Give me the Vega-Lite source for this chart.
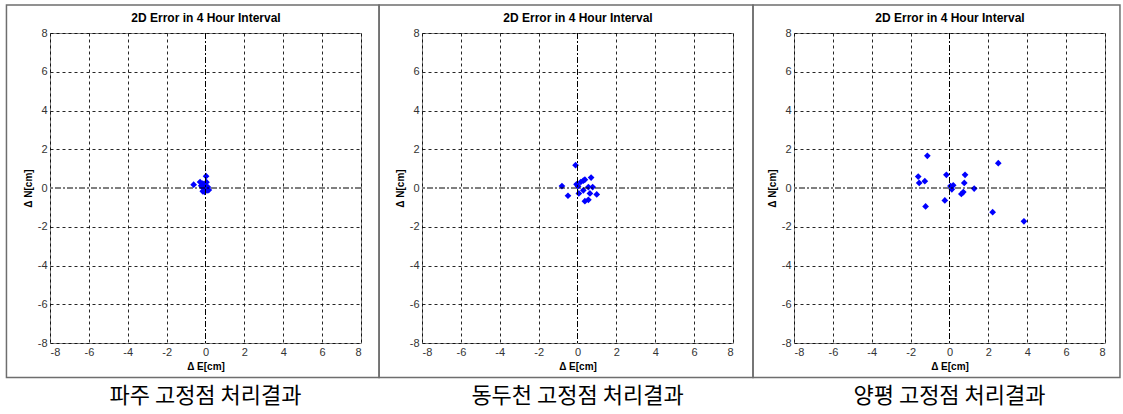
{
  "$schema": "https://vega.github.io/schema/vega-lite/v6.json",
  "background": "white",
  "padding": {"left": 5, "top": 3, "right": 0, "bottom": 0},
  "bounds": "flush",
  "spacing": 61,
  "datasets": {
    "paju": [
      {"E": 0.03, "N": 0.61}, {"E": -0.61, "N": 0.17}, {"E": -0.28, "N": 0.31}, {"E": -0.14, "N": 0.23},
      {"E": -0.17, "N": 0.05}, {"E": -0.05, "N": 0.14}, {"E": 0.12, "N": 0.05}, {"E": -0.14, "N": -0.17},
      {"E": 0.12, "N": -0.12}, {"E": 0.03, "N": -0.03}, {"E": 0.17, "N": -0.1}, {"E": -0.05, "N": -0.2},
      {"E": -0.22, "N": 0.12}, {"E": 0.05, "N": 0.3}
    ],
    "dongducheon": [
      {"E": -0.1, "N": 1.18}, {"E": -0.8, "N": 0.1}, {"E": -0.49, "N": -0.4}, {"E": -0.05, "N": 0.19},
      {"E": 0.03, "N": 0.09}, {"E": 0.17, "N": 0.31}, {"E": 0.3, "N": 0.38}, {"E": 0.38, "N": 0.43},
      {"E": 0.7, "N": 0.54}, {"E": 0.56, "N": 0.05}, {"E": 0.78, "N": 0.05}, {"E": 0.3, "N": -0.12},
      {"E": 0.07, "N": -0.28}, {"E": 0.64, "N": -0.28}, {"E": 0.99, "N": -0.33}, {"E": 0.38, "N": -0.68},
      {"E": 0.56, "N": -0.61}
    ],
    "yangpyeong": [
      {"E": -1.14, "N": 1.66}, {"E": 2.51, "N": 1.28}, {"E": -1.61, "N": 0.59}, {"E": -1.56, "N": 0.26},
      {"E": -1.27, "N": 0.35}, {"E": -0.16, "N": 0.68}, {"E": 0.8, "N": 0.68}, {"E": 0.76, "N": 0.26},
      {"E": 0.05, "N": 0.1}, {"E": 0.19, "N": 0.14}, {"E": 0.12, "N": -0.07}, {"E": 1.27, "N": -0.03},
      {"E": 0.61, "N": -0.31}, {"E": 0.71, "N": -0.21}, {"E": -0.24, "N": -0.64}, {"E": -1.23, "N": -0.95},
      {"E": 2.22, "N": -1.25}, {"E": 3.83, "N": -1.72}
    ]
  },
  "config": {
    "font": "Liberation Sans",
    "view": {"stroke": "#808080", "strokeWidth": 1},
    "axis": {
      "grid": true, "gridColor": "black", "gridDash": [3, 3], "gridWidth": 1,
      "gridOpacity": {"condition": {"test": "datum.value === 0", "value": 0}, "value": 0.85},
      "domain": false, "ticks": false,
      "labelFont": "Liberation Sans", "labelFontSize": 11, "labelColor": "#333", "labelPadding": 3,
      "titleFont": "Liberation Sans", "titleFontSize": 10, "titleFontWeight": "bold", "titleColor": "black"
    },
    "title": {"font": "Noto Sans CJK KR", "fontSize": 22, "fontWeight": "normal", "color": "black", "orient": "bottom", "anchor": "middle", "offset": 8}
  },
  "hconcat": [
    {
      "width": 311, "height": 310,
      "title": {"text": "파주 고정점 처리결과"},
      "resolve": {"axis": {"x": "independent", "y": "independent"}},
      "layer": [
        {
          "data": {"name": "paju"},
          "mark": {"type": "point", "shape": "diamond", "filled": true, "color": "#0000ff", "size": 45, "opacity": 1},
          "encoding": {
            "x": {"field": "E", "type": "quantitative", "scale": {"domain": [-8, 8], "nice": false}, "axis": {"title": "Δ E[cm]", "values": [-8, -6, -4, -2, 0, 2, 4, 6, 8], "labelExpr": "datum.value < 0 ? '-' + abs(datum.value) : '' + datum.value"}},
            "y": {"field": "N", "type": "quantitative", "scale": {"domain": [-8, 8], "nice": false}, "axis": {"title": "Δ N[cm]", "values": [-8, -6, -4, -2, 0, 2, 4, 6, 8], "labelExpr": "datum.value < 0 ? '-' + abs(datum.value) : '' + datum.value"}}
          }
        },
        {
          "data": {"values": [{}]},
          "mark": {"type": "rule", "color": "black", "strokeDash": [6, 2, 2, 2], "strokeWidth": 1},
          "encoding": {
            "x": {"datum": 0, "type": "quantitative", "axis": {"orient": "top", "title": "2D Error in 4 Hour Interval", "labels": false, "grid": false, "ticks": false, "domain": false, "titleFontSize": 12, "titlePadding": 9}}
          }
        },
        {
          "data": {"values": [{}]},
          "mark": {"type": "rule", "color": "black", "strokeDash": [6, 2, 2, 2], "strokeWidth": 1},
          "encoding": {
            "y": {"datum": 0, "type": "quantitative", "axis": null}
          }
        },
        {
          "data": {"values": [{}]},
          "mark": {"type": "rect", "clip": false, "filled": false, "stroke": "#6e6e6e", "strokeWidth": 1.5},
          "encoding": {
            "x": {"datum": -10.24, "type": "quantitative", "axis": null},
            "x2": {"datum": 8.93},
            "y": {"datum": 9.45, "type": "quantitative", "axis": null},
            "y2": {"datum": -9.78}
          }
        }
      ]
    },
    {
      "width": 311, "height": 310,
      "title": {"text": "동두천 고정점 처리결과"},
      "resolve": {"axis": {"x": "independent", "y": "independent"}},
      "layer": [
        {
          "data": {"name": "dongducheon"},
          "mark": {"type": "point", "shape": "diamond", "filled": true, "color": "#0000ff", "size": 45, "opacity": 1},
          "encoding": {
            "x": {"field": "E", "type": "quantitative", "scale": {"domain": [-8, 8], "nice": false}, "axis": {"title": "Δ E[cm]", "values": [-8, -6, -4, -2, 0, 2, 4, 6, 8], "labelExpr": "datum.value < 0 ? '-' + abs(datum.value) : '' + datum.value"}},
            "y": {"field": "N", "type": "quantitative", "scale": {"domain": [-8, 8], "nice": false}, "axis": {"title": "Δ N[cm]", "values": [-8, -6, -4, -2, 0, 2, 4, 6, 8], "labelExpr": "datum.value < 0 ? '-' + abs(datum.value) : '' + datum.value"}}
          }
        },
        {
          "data": {"values": [{}]},
          "mark": {"type": "rule", "color": "black", "strokeDash": [6, 2, 2, 2], "strokeWidth": 1},
          "encoding": {
            "x": {"datum": 0, "type": "quantitative", "axis": {"orient": "top", "title": "2D Error in 4 Hour Interval", "labels": false, "grid": false, "ticks": false, "domain": false, "titleFontSize": 12, "titlePadding": 9}}
          }
        },
        {
          "data": {"values": [{}]},
          "mark": {"type": "rule", "color": "black", "strokeDash": [6, 2, 2, 2], "strokeWidth": 1},
          "encoding": {
            "y": {"datum": 0, "type": "quantitative", "axis": null}
          }
        },
        {
          "data": {"values": [{}]},
          "mark": {"type": "rect", "clip": false, "filled": false, "stroke": "#6e6e6e", "strokeWidth": 1.5},
          "encoding": {
            "x": {"datum": -10.21, "type": "quantitative", "axis": null},
            "x2": {"datum": 9.03},
            "y": {"datum": 9.45, "type": "quantitative", "axis": null},
            "y2": {"datum": -9.78}
          }
        }
      ]
    },
    {
      "width": 311, "height": 310,
      "title": {"text": "양평 고정점 처리결과"},
      "resolve": {"axis": {"x": "independent", "y": "independent"}},
      "layer": [
        {
          "data": {"name": "yangpyeong"},
          "mark": {"type": "point", "shape": "diamond", "filled": true, "color": "#0000ff", "size": 45, "opacity": 1},
          "encoding": {
            "x": {"field": "E", "type": "quantitative", "scale": {"domain": [-8, 8], "nice": false}, "axis": {"title": "Δ E[cm]", "values": [-8, -6, -4, -2, 0, 2, 4, 6, 8], "labelExpr": "datum.value < 0 ? '-' + abs(datum.value) : '' + datum.value"}},
            "y": {"field": "N", "type": "quantitative", "scale": {"domain": [-8, 8], "nice": false}, "axis": {"title": "Δ N[cm]", "values": [-8, -6, -4, -2, 0, 2, 4, 6, 8], "labelExpr": "datum.value < 0 ? '-' + abs(datum.value) : '' + datum.value"}}
          }
        },
        {
          "data": {"values": [{}]},
          "mark": {"type": "rule", "color": "black", "strokeDash": [6, 2, 2, 2], "strokeWidth": 1},
          "encoding": {
            "x": {"datum": 0, "type": "quantitative", "axis": {"orient": "top", "title": "2D Error in 4 Hour Interval", "labels": false, "grid": false, "ticks": false, "domain": false, "titleFontSize": 12, "titlePadding": 9}}
          }
        },
        {
          "data": {"values": [{}]},
          "mark": {"type": "rule", "color": "black", "strokeDash": [6, 2, 2, 2], "strokeWidth": 1},
          "encoding": {
            "y": {"datum": 0, "type": "quantitative", "axis": null}
          }
        },
        {
          "data": {"values": [{}]},
          "mark": {"type": "rect", "clip": false, "filled": false, "stroke": "#6e6e6e", "strokeWidth": 1.5},
          "encoding": {
            "x": {"datum": -10.11, "type": "quantitative", "axis": null},
            "x2": {"datum": 8.77},
            "y": {"datum": 9.45, "type": "quantitative", "axis": null},
            "y2": {"datum": -9.78}
          }
        }
      ]
    }
  ]
}
